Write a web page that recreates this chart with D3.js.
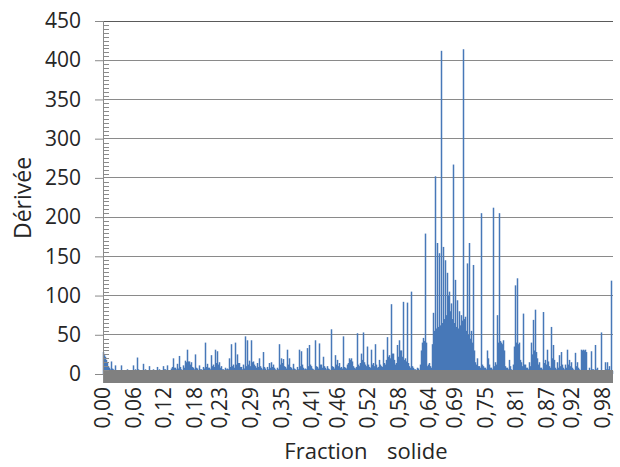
<!DOCTYPE html>
<html>
<head>
<meta charset="utf-8">
<script src="https://cdn.jsdelivr.net/npm/d3@7"></script>
<style>
  html, body { margin: 0; padding: 0; background: #ffffff; }
  svg text { font-family: "Open Sans", "Noto Sans", sans-serif; fill: #262626; }
</style>
</head>
<body>
<svg id="chart" width="620" height="467"></svg>
<script>
// ---- data (one value per column of the plot) ----
const derivee = [
  28,24, 22,18, 15,10, 8,6, 16,7, 6,5, 11,4, 5,3, 4,5, 11,4, 5,3, 3,4, 6,3, 4,5, 5,4, 11,5, 6,4, 21,6, 5,4, 4,3,
  13,5, 6,4, 5,3, 10,5, 4,3, 6,4, 5,3, 9,5, 6,4, 4,3, 10,6, 6,4, 11,5, 5,4, 7,9, 20,8, 8,6, 13,7, 23,9, 6,5,
  11,8, 17,15, 31,16, 16,12, 15,9, 8,6, 25,8, 7,5, 11,6, 6,5, 9,7, 40,9, 13,8, 8,6, 24,10, 12,9, 31,14, 29,12, 15,8, 10,6,
  6,5, 8,6, 7,6, 20,9, 38,10, 12,8, 40,12, 25,14, 14,9, 9,6, 12,7, 48,10, 43,12, 17,10, 43,15, 16,12, 10,8, 14,9, 20,10, 8,6,
  28,9, 7,5, 9,6, 14,8, 15,9, 12,8, 6,5, 8,6, 38,12, 20,14, 19,10, 9,7, 31,12, 20,9, 8,6, 13,7, 6,5, 9,6, 31,10, 29,12,
  8,6, 7,6, 33,10, 37,12, 10,7, 6,5, 43,10, 9,7, 39,12, 12,8, 22,10, 8,6, 10,7, 6,5, 57,10, 9,7, 24,12, 18,10, 14,8, 9,7,
  48,9, 8,7, 12,14, 20,18, 20,16, 10,8, 7,9, 52,12, 10,14, 26,18, 53,15, 12,10, 35,12, 9,8, 31,12, 14,10, 38,12, 8,9, 18,12, 10,9,
  31,14, 12,18, 47,22, 24,20, 89,26, 26,18, 12,14, 37,22, 43,30, 30,22, 92,18, 20,16, 91,14, 10,8, 105,10, 8,6, 6,5, 8,7, 5,12, 30,40,
  46,42, 179,40, 10,12, 14,10, 8,38, 78,55, 252,58, 167,60, 154,62, 412,65, 162,70, 145,75, 129,100, 105,80, 90,70, 267,65, 120,60, 94,58, 80,62, 75,68,
  414,70, 73,55, 141,50, 167,45, 55,40, 139,30, 15,12, 20,10, 10,8, 205,12, 10,8, 8,6, 30,20, 12,8, 8,6, 212,10, 15,12, 75,40, 205,42, 40,38,
  43,30, 10,8, 8,6, 18,10, 6,5, 12,35, 113,40, 122,38, 40,18, 15,10, 77,12, 12,8, 8,6, 15,10, 40,25, 69,30, 82,28, 20,12, 15,8, 8,6,
  79,14, 18,12, 31,16, 10,8, 60,20, 37,18, 8,6, 15,8, 24,10, 28,12, 8,6, 12,8, 31,12, 18,10, 15,8, 6,5, 27,10, 15,8, 6,5, 31,30,
  31,30, 31,28, 5,4, 8,5, 29,6, 6,5, 37,6, 8,5, 5,4, 53,5, 5,4, 15,6, 15,6, 10,5, 119,4
];
const tickLabels = ["0,00","0,06","0,12","0,18","0,23","0,29","0,35","0,41","0,46",
                    "0,52","0,58","0,64","0,69","0,75","0,81","0,87","0,92","0,98"];
const yTicks = [0,50,100,150,200,250,300,350,400,450];
const yTitle = "Dérivée";
const xTitle = "Fraction  solide";

// ---- layout ----
const svg = d3.select("#chart");
const pL = 103, pR = 613, pT = 21, pB = 374;

const x = d3.scaleLinear().domain([0, 1]).range([pL, pR]);
const y = d3.scaleLinear().domain([0, 450]).range([pB, pT]);

// gridlines
svg.append("g")
  .selectAll("line").data(yTicks.filter(d => d > 0)).join("line")
  .attr("x1", pL).attr("x2", pR)
  .attr("y1", d => y(d)).attr("y2", d => y(d))
  .attr("stroke", d => d === 450 ? "#5a5a5a" : "#8a8a8a")
  .attr("stroke-width", 1)
  .attr("shape-rendering", "crispEdges");

// bars
const step = (x(1) - x(0)) / derivee.length;
svg.append("g")
  .selectAll("rect").data(derivee).join("rect")
  .attr("x", (d, i) => x(i / derivee.length) - step * 0.25)
  .attr("width", step * 1.5)
  .attr("y", d => y(d))
  .attr("height", d => y(0) - y(d))
  .attr("fill", "#4778b8");

// thick horizontal axis (gray band)
svg.append("line")
  .attr("x1", pL).attr("x2", pR)
  .attr("y1", y(0) + 2.5).attr("y2", y(0) + 2.5)
  .attr("stroke", "#808080").attr("stroke-width", 13);

// y axis
const yAxis = d3.axisLeft(y).tickValues(yTicks).tickSize(8).tickPadding(14)
  .tickFormat(d3.format("d"));
const gy = svg.append("g").attr("transform", `translate(${pL},0)`).call(yAxis);
gy.select(".domain").remove();
gy.selectAll(".tick line").attr("stroke", "#8a8a8a");
gy.selectAll(".tick text").style("font-size", "21px").attr("fill", "#262626");
svg.append("line")
  .attr("x1", pL + 0.5).attr("x2", pL + 0.5)
  .attr("y1", pT).attr("y2", y(0) + 9)
  .attr("stroke", "#8a8a8a");
// minor ticks
const minor = d3.range(0, 451, 5).filter(d => d % 50 !== 0);
svg.append("g").selectAll("line").data(minor).join("line")
  .attr("x1", pL).attr("x2", pL + 6)
  .attr("y1", d => Math.round(y(d)) + 0.5).attr("y2", d => Math.round(y(d)) + 0.5)
  .attr("stroke", "#8a8a8a");

// x tick labels
svg.append("g").selectAll("text").data(tickLabels).join("text")
  .attr("transform", d => `translate(${x(+d.replace(",", ".")) + 7},${y(0) + 13}) rotate(-90)`)
  .attr("text-anchor", "end")
  .style("font-size", "21px")
  .text(d => d);

// titles
svg.append("text")
  .attr("x", 366).attr("y", 459)
  .attr("text-anchor", "middle")
  .style("font-size", "22px")
  .style("white-space", "pre")
  .style("word-spacing", "4px")
  .text(xTitle);

svg.append("text")
  .attr("transform", `translate(31,198) rotate(-90)`)
  .attr("text-anchor", "middle")
  .style("font-size", "23px")
  .text(yTitle);
</script>
</body>
</html>
